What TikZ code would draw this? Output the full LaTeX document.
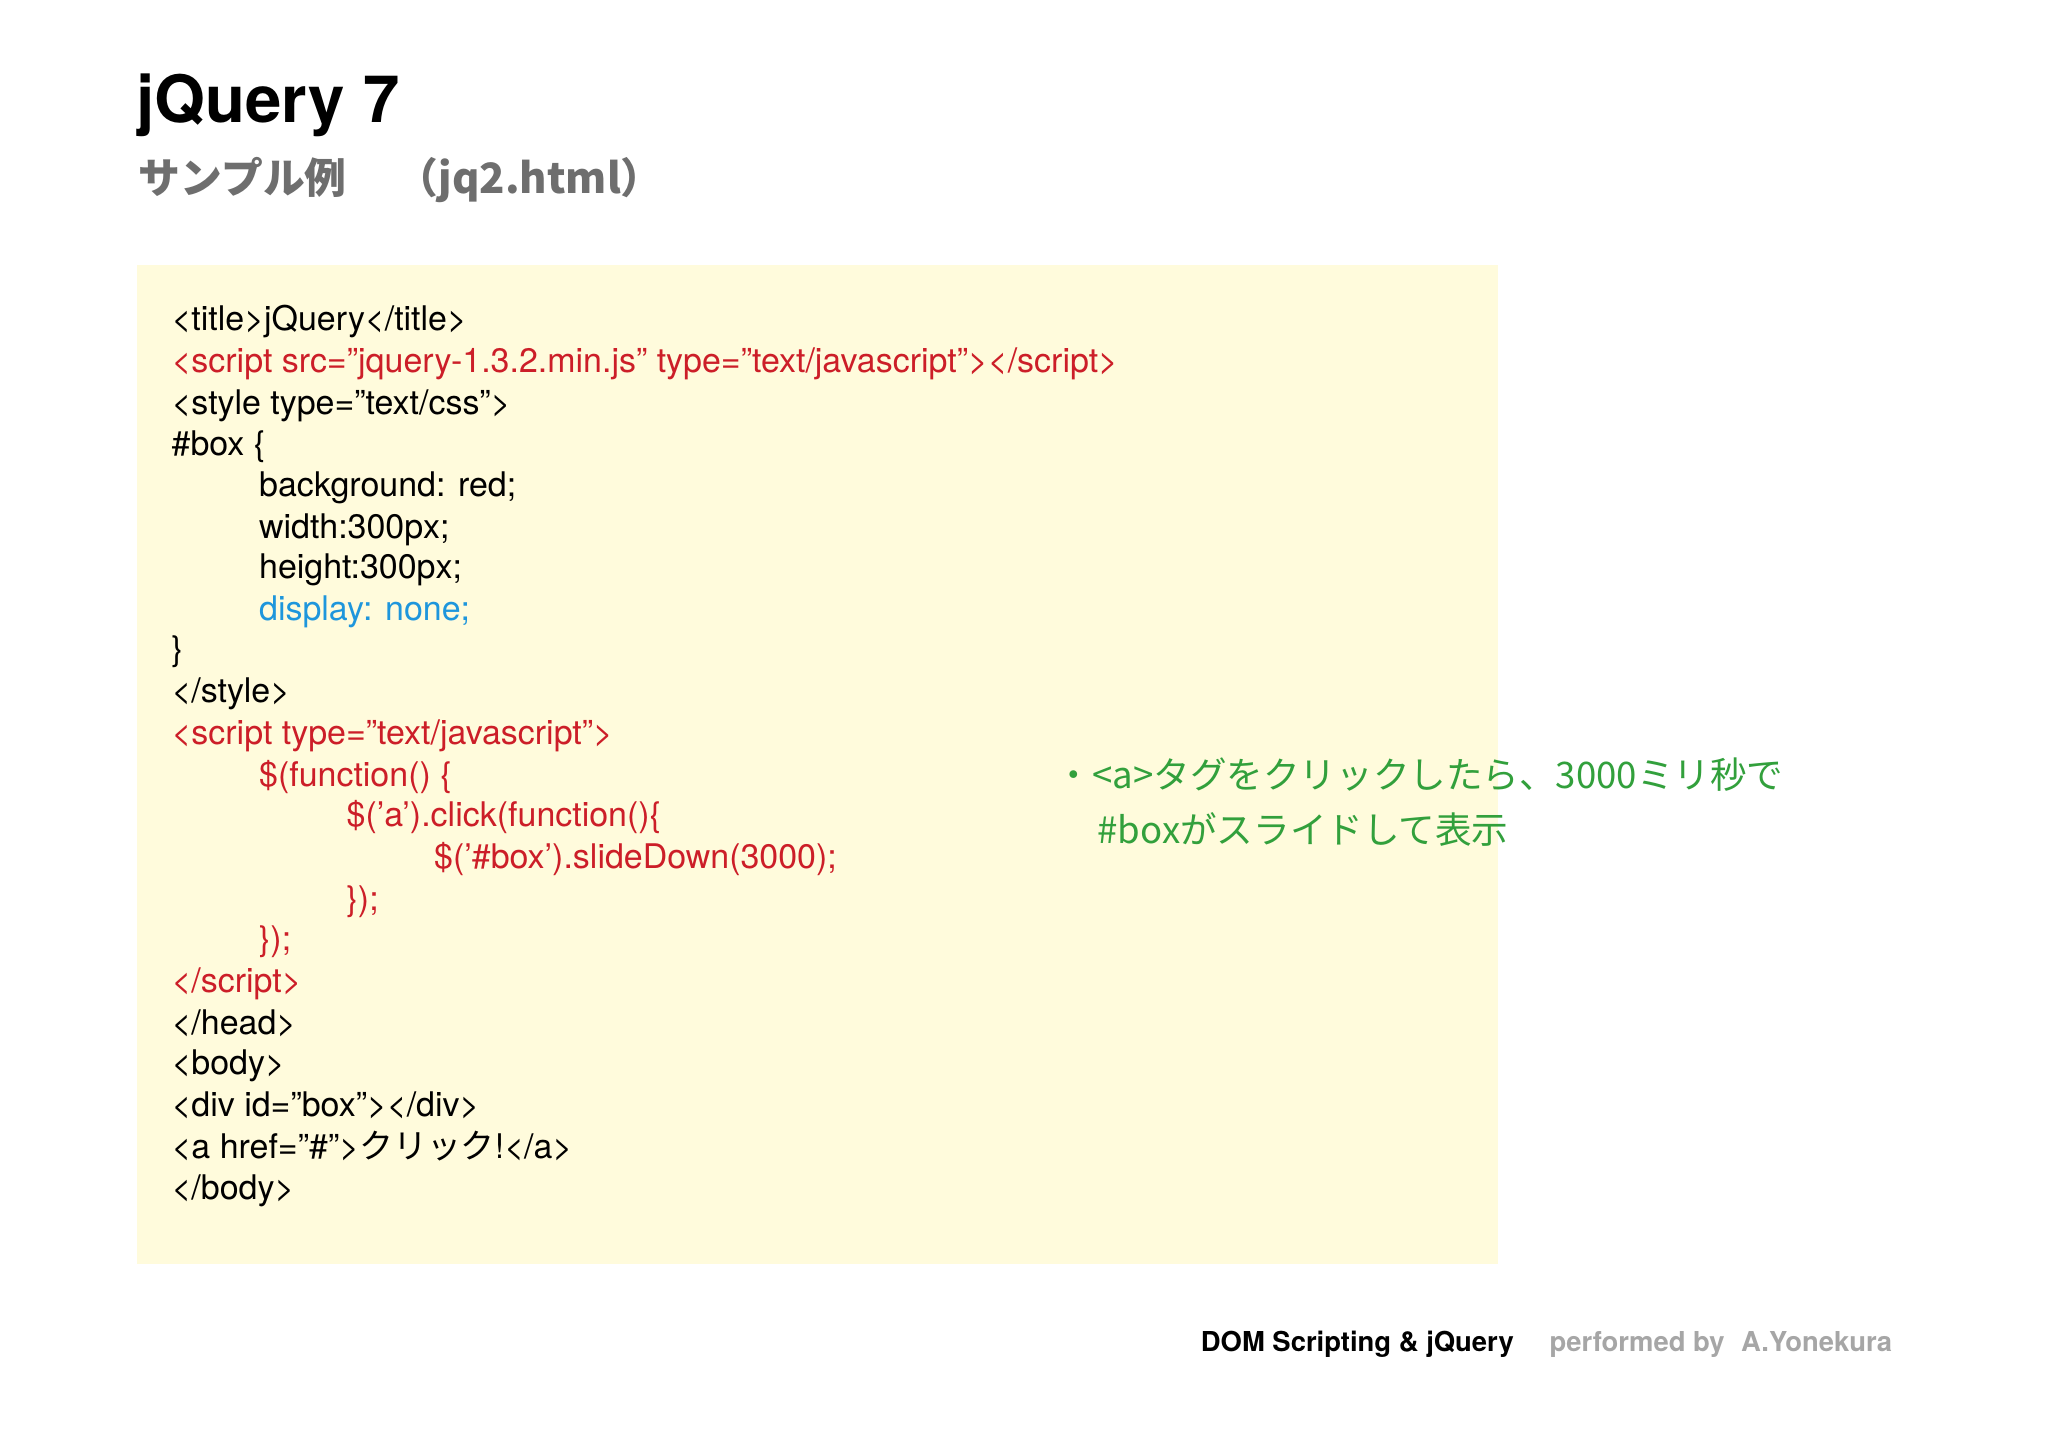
\documentclass[tikz,border=0pt]{standalone}
\usepackage{fontspec}
\setmainfont{TeX Gyre Heros}
\newfontfamily\jp{Noto Sans CJK JP}
\definecolor{codered}{RGB}{204,30,40}
\definecolor{codeblue}{RGB}{30,150,220}
\definecolor{notegreen}{RGB}{50,160,60}
\definecolor{boxbg}{RGB}{255,251,220}
\definecolor{subgray}{RGB}{110,110,110}
\begin{document}
\begin{tikzpicture}[x=0.5pt,y=-0.5pt,
  code/.style={anchor=base west,inner sep=0,font=\fontsize{13}{15}\selectfont},
  red/.style={text=codered}]
\useasboundingbox (0,0) rectangle (1568,1108);
\fill[white] (0,0) rectangle (1568,1108);
\node[anchor=base west,inner sep=0,font=\fontsize{25}{30}\selectfont\bfseries] (title) at (104,94) {jQuery 7};
\node[anchor=base west,inner sep=0,text=subgray,font=\jp\fontsize{16}{20}\selectfont\bfseries] (sub) at (106,148) {サンプル例\hspace{1.2em}（jq2.html）};
\fill[boxbg] (105,203) rectangle (1147,968);
\node[code] (l1) at (131,253) {<title>jQuery</title>};
\node[code,red] (l2) at (131,285) {<script src="jquery-1.3.2.min.js" type="text/javascript"></script>};
\node[code] (l3) at (131,317) {<style type="text/css">};
\node[code] (l4) at (131,349) {\#box \{};
\node[code] (l5) at (198,380) {background: red;};
\node[code] (l6) at (198,412) {width:300px;};
\node[code] (l7) at (198,443) {height:300px;};
\node[code,text=codeblue] (l8) at (198,475) {display: none;};
\node[code] (l9) at (131,506) {\}};
\node[code] (l10) at (131,538) {</style>};
\node[code,red] (l11) at (131,570) {<script type="text/javascript">};
\node[code,red] (l12) at (198,602) {\$(function() \{};
\node[code,red] (l13) at (265,633) {\$('a').click(function()\{};
\node[code,red] (l14) at (332,665) {\$('\#box').slideDown(3000);};
\node[code,red] (l15) at (265,697) {\});};
\node[code,red] (l16) at (198,728) {\});};
\node[code,red] (l17) at (131,760) {</script>};
\node[code] (l18) at (131,792) {</head>};
\node[code] (l19) at (131,823) {<body>};
\node[code] (l20) at (131,855) {<div id="box"></div>};
\node[code] (l21) at (131,887) {<a href="\#">{\jp クリック}!</a>};
\node[code] (l22) at (131,918) {</body>};
\node[code,text=notegreen,font=\jp\fontsize{14}{17}\selectfont] (n1) at (808,604) {・<a>タグをクリックしたら、3000ミリ秒で};
\node[code,text=notegreen,font=\jp\fontsize{14}{17}\selectfont] (n2) at (840,646) {\#boxがスライドして表示};
\node[anchor=base west,inner sep=0,font=\fontsize{10.5}{12}\selectfont\bfseries] (f1) at (919,1035) {DOM Scripting \& jQuery};
\node[anchor=base west,inner sep=0,text=gray!70,font=\fontsize{10.5}{12}\selectfont\bfseries] (f2) at (1186,1035) {performed by\hspace{0.6em}A.Yonekura};
\end{tikzpicture}
\end{document}
